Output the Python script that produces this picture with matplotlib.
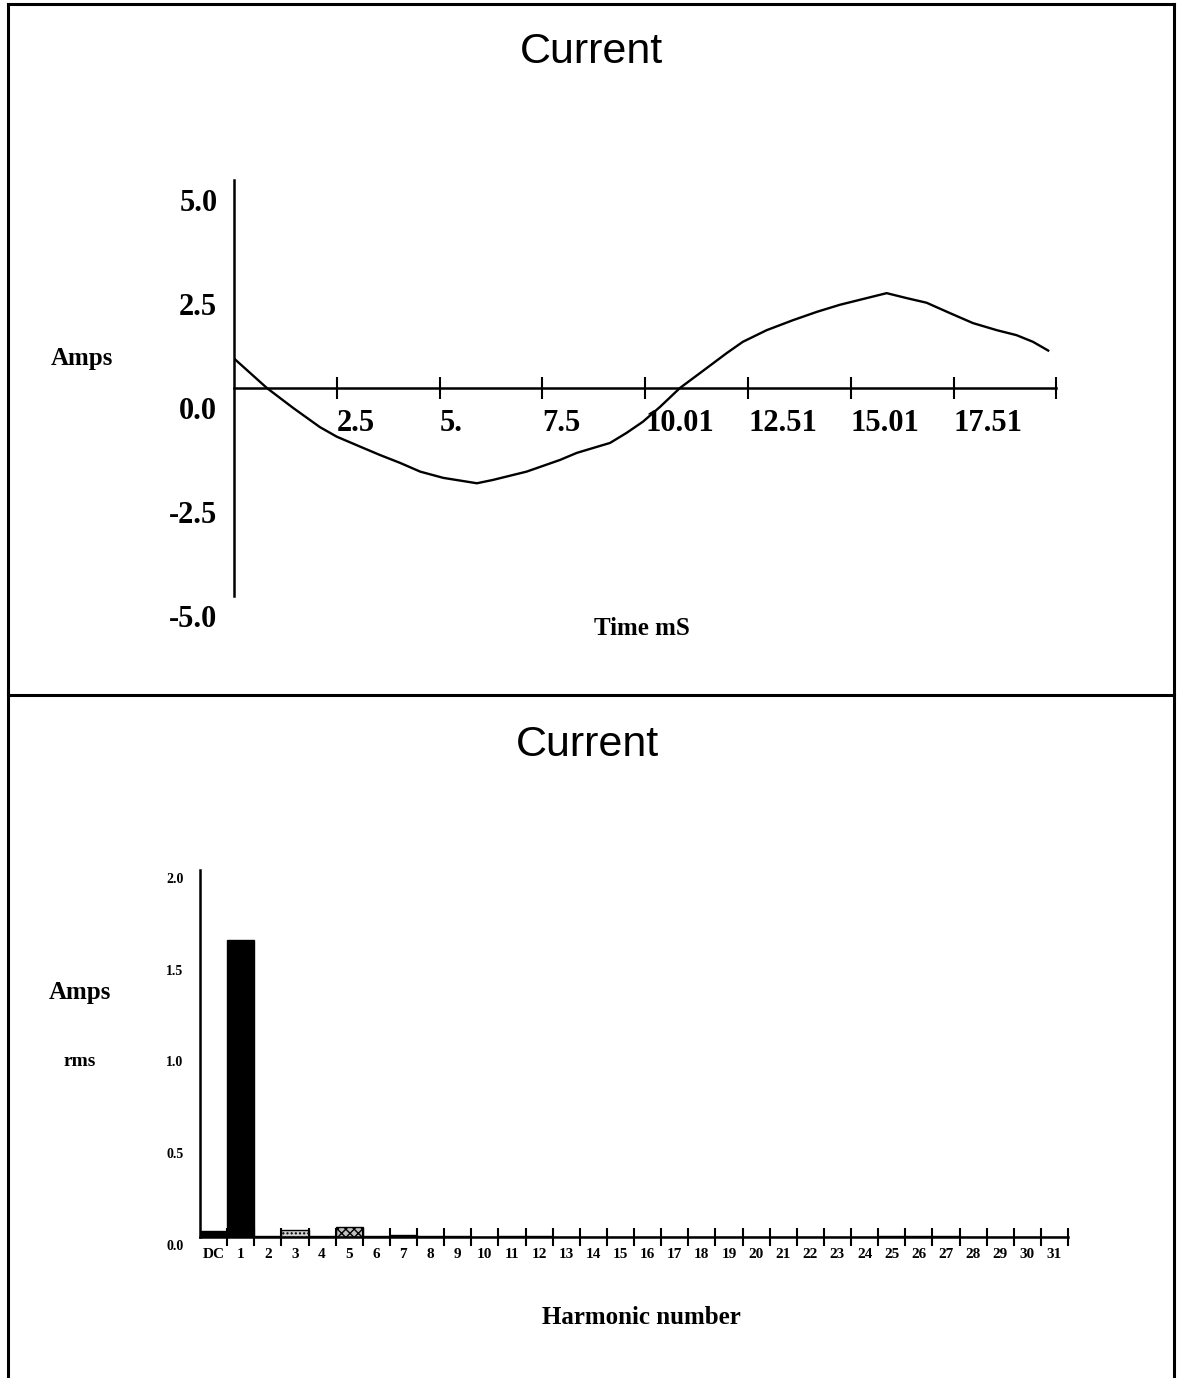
import matplotlib
matplotlib.use("Agg")
import matplotlib.pyplot as plt
import matplotlib.transforms as mtransforms
from matplotlib.lines import Line2D

# ---------------- data ----------------
time_ms = [0.0, 0.80, 1.44, 2.09, 2.50, 3.07, 3.55, 4.04, 4.53, 5.09, 5.91, 6.30,
           7.12, 7.93, 8.34, 9.15, 9.55, 9.95, 10.37, 10.85, 11.34, 11.99, 12.38,
           12.96, 13.60, 14.18, 14.74, 15.39, 15.88, 16.37, 16.85, 17.42, 17.98,
           18.56, 19.04, 19.44, 19.81]
current_a = [0.71, 0.0, -0.48, -0.94, -1.17, -1.41, -1.61, -1.80, -2.01, -2.16, -2.29,
             -2.21, -2.01, -1.73, -1.56, -1.32, -1.08, -0.81, -0.45, 0.0, 0.36, 0.84,
             1.11, 1.39, 1.63, 1.83, 2.00, 2.16, 2.28, 2.16, 2.05, 1.80, 1.56, 1.39,
             1.27, 1.11, 0.90]
time_ticks = [2.5, 5.0, 7.5, 10.01, 12.51, 15.01, 17.51, 20.0]
time_tick_labels = ["2.5", "5.", "7.5", "10.01", "12.51", "15.01", "17.51", ""]
amp_ticks = [-5.0, -2.5, 0.0, 2.5, 5.0]
amp_tick_labels = ["-5.0", "-2.5", "0.0", "2.5", "5.0"]

harmonics = ["DC"] + [str(i) for i in range(1, 32)]
harm_rms = [0.03, 1.62, 0.005, 0.04, 0.003, 0.055, 0.003, 0.01, 0.005, 0.003,
            0.002, 0.006, 0.003, 0.002, 0.002, 0.002, 0.002, 0.002, 0.002, 0.002,
            0.002, 0.002, 0.002, 0.002, 0.002, 0.003, 0.003, 0.003, 0.002, 0.002,
            0.002, 0.002]
rms_ticks = [0.0, 0.5, 1.0, 1.5, 2.0]
rms_tick_labels = ["0.0", "0.5", "1.0", "1.5", "2.0"]

# ---------------- layout helpers ----------------
W, H = 1177, 1378
fig = plt.figure(figsize=(W / 100, H / 100), dpi=100)
fig.patch.set_facecolor("white")


def fx(px):
    return px / W


def fy(py):
    return 1 - py / H


def rect(x0, y0, x1, y1):
    return [fx(x0), fy(y1), fx(x1) - fx(x0), fy(y0) - fy(y1)]


SERIF = "Liberation Serif"
SANS = "Liberation Sans"

# ---------------- frame lines ----------------
lw_frame = 2.2
fig.add_artist(Line2D([fx(8), fx(8)], [fy(4), 0], color="black", lw=lw_frame))
fig.add_artist(Line2D([fx(1174), fx(1174)], [fy(4), 0], color="black", lw=lw_frame))
fig.add_artist(Line2D([fx(8), fx(1174)], [fy(4), fy(4)], color="black", lw=lw_frame))
fig.add_artist(Line2D([fx(8), fx(1174)], [fy(695), fy(695)], color="black", lw=lw_frame))

# ---------------- top: waveform ----------------
ax1 = fig.add_axes(rect(234, 180, 1056, 596))
ax1.plot(time_ms, current_a, color="black", lw=1.7)
ax1.set_xlim(0, 20)
ax1.set_ylim(-5, 5)
for s in ["top", "right"]:
    ax1.spines[s].set_visible(False)
ax1.spines["bottom"].set_position(("data", 0))
ax1.spines["bottom"].set_linewidth(1.8)
ax1.spines["left"].set_linewidth(1.8)
ax1.set_facecolor("none")

ax1.set_xticks(time_ticks)
ax1.set_xticklabels(time_tick_labels, fontfamily=SERIF, fontweight="bold", fontsize=22)
ax1.tick_params(axis="x", direction="inout", length=16, width=1.5, pad=6)
xoff = mtransforms.ScaledTranslation(0.0, -0.02, fig.dpi_scale_trans)
for lab in ax1.get_xticklabels():
    lab.set_horizontalalignment("left")
    lab.set_transform(lab.get_transform() + xoff)

ax1.set_yticks(amp_ticks)
ax1.set_yticklabels(amp_tick_labels, fontfamily=SERIF, fontweight="bold", fontsize=22)
ax1.tick_params(axis="y", length=0, pad=12)
yoff = mtransforms.ScaledTranslation(0.0, -0.20, fig.dpi_scale_trans)
for lab in ax1.get_yticklabels():
    lab.set_transform(lab.get_transform() + yoff)

fig.text(fx(591), fy(52), "Current", ha="center", va="center",
         fontfamily=SANS, fontsize=31)
fig.text(fx(82), fy(358), "Amps", ha="center", va="center",
         fontfamily=SERIF, fontweight="bold", fontsize=18)
fig.text(fx(642), fy(628), "Time mS", ha="center", va="center",
         fontfamily=SERIF, fontweight="bold", fontsize=18)

# ---------------- bottom: harmonic spectrum ----------------
ax2 = fig.add_axes(rect(200, 870, 1068, 1237))
pos = [i + 0.5 for i in range(len(harmonics))]
bars = ax2.bar(pos, harm_rms, width=1.0, color="black", edgecolor="black", lw=1.0)
bars[3].set_facecolor("#d0d0d0")
bars[3].set_hatch("....")
bars[5].set_facecolor("#c0c0c0")
bars[5].set_hatch("xxxx")
ax2.set_xlim(0, len(harmonics))
ax2.set_ylim(0, 2.0)
for s in ["top", "right"]:
    ax2.spines[s].set_visible(False)
ax2.spines["bottom"].set_linewidth(1.8)
ax2.spines["left"].set_linewidth(1.8)
ax2.set_facecolor("none")

ax2.set_xticks(list(range(1, len(harmonics) + 1)))
ax2.set_xticklabels([])
ax2.tick_params(axis="x", which="major", direction="inout", length=13, width=1.5)
ax2.set_xticks(pos, minor=True)
ax2.set_xticklabels(harmonics, minor=True, fontfamily=SERIF, fontweight="bold", fontsize=11)
ax2.tick_params(axis="x", which="minor", length=0, pad=8)

ax2.set_yticks(rms_ticks)
ax2.set_yticklabels(rms_tick_labels, fontfamily=SERIF, fontweight="bold", fontsize=10)
ax2.tick_params(axis="y", length=0, pad=12)
yoff2 = mtransforms.ScaledTranslation(0.0, -0.08, fig.dpi_scale_trans)
for lab in ax2.get_yticklabels():
    lab.set_transform(lab.get_transform() + yoff2)

fig.text(fx(588), fy(745), "Current", ha="center", va="center",
         fontfamily=SANS, fontsize=31)
fig.text(fx(80), fy(993), "Amps", ha="center", va="center",
         fontfamily=SERIF, fontweight="bold", fontsize=18)
fig.text(fx(80), fy(1062), "rms", ha="center", va="center",
         fontfamily=SERIF, fontweight="bold", fontsize=14)
fig.text(fx(641), fy(1318), "Harmonic number", ha="center", va="center",
         fontfamily=SERIF, fontweight="bold", fontsize=18)

fig.savefig("out.png", dpi=100, facecolor="white")
